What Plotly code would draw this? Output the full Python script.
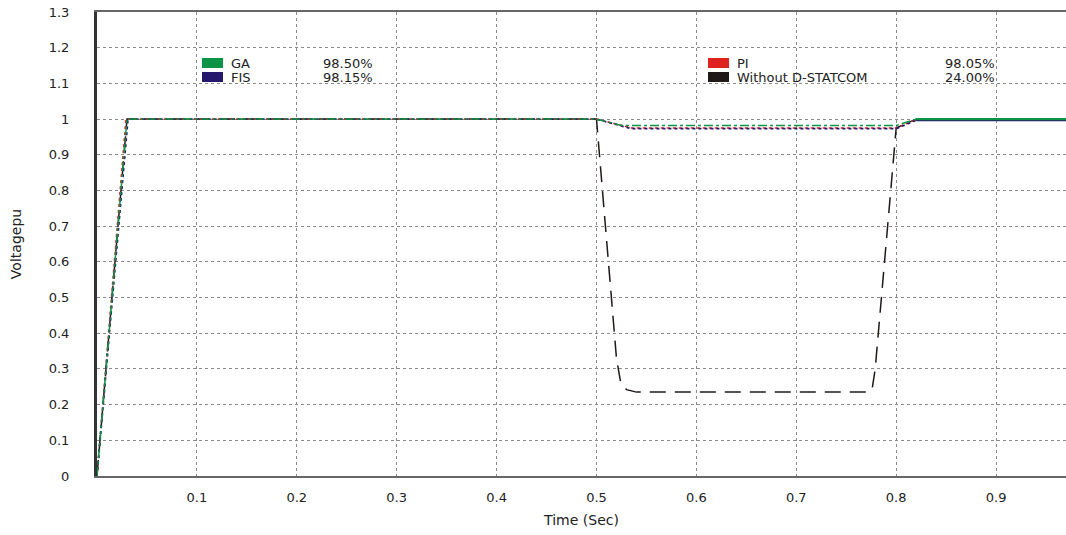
import plotly.graph_objects as go

# ---- data ----
t_ga = [0.0, 0.030, 0.50, 0.525, 0.80, 0.82, 0.97]
v_ga = [0.0, 1.000, 1.000, 0.982, 0.982, 1.000, 1.000]

t_fis = [0.0, 0.031, 0.50, 0.535, 0.80, 0.82, 0.97]
v_fis = [0.0, 1.000, 1.000, 0.973, 0.973, 0.997, 0.997]

t_pi = [0.0, 0.029, 0.50, 0.535, 0.80, 0.82, 0.97]
v_pi = [0.0, 1.000, 1.000, 0.975, 0.975, 0.999, 0.999]

t_wo = [0.0, 0.030, 0.50, 0.520, 0.524, 0.530, 0.540, 0.772, 0.776, 0.779, 0.800, 0.82, 0.97]
v_wo = [0.0, 1.000, 1.000, 0.330, 0.265, 0.242, 0.235, 0.235, 0.245, 0.300, 0.975, 1.00, 1.00]

legend_left = ["GA", "FIS"]
legend_left_pct = ["98.50%", "98.15%"]
legend_right = ["PI", "Without D-STATCOM"]
legend_right_pct = ["98.05%", "24.00%"]

x_ticks = [0.1, 0.2, 0.3, 0.4, 0.5, 0.6, 0.7, 0.8, 0.9, 1.0]
x_ticktext = ["0.1", "0.2", "0.3", "0.4", "0.5", "0.6", "0.7", "0.8", "0.9", "1"]
y_ticks = [0, 0.1, 0.2, 0.3, 0.4, 0.5, 0.6, 0.7, 0.8, 0.9, 1.0, 1.1, 1.2, 1.3]
y_ticktext = ["0", "0.1", "0.2", "0.3", "0.4", "0.5", "0.6", "0.7", "0.8", "0.9", "1", "1.1", "1.2", "1.3"]

C_GA = "#0b9446"
C_FIS = "#24176c"
C_PI = "#e0231f"
C_WO = "#1f1a17"

FONT = "DejaVu Sans"
W, H = 1066, 535
L, R, T, B = 97, 0, 12, 59


def split(t, v, tc=0.82):
    pre = [(a, b) for a, b in zip(t, v) if a <= tc]
    post = [(a, b) for a, b in zip(t, v) if a >= tc]
    return pre, post


fig = go.Figure()

# without D-STATCOM (bottom layer)
pre, post = split(t_wo, v_wo)
fig.add_trace(go.Scatter(x=[p[0] for p in pre], y=[p[1] for p in pre], mode="lines",
                         line=dict(color=C_WO, width=1.5, dash="16px,9px"),
                         name="Without D-STATCOM", showlegend=False))
fig.add_trace(go.Scatter(x=[p[0] for p in post], y=[p[1] for p in post], mode="lines",
                         line=dict(color=C_WO, width=1.5), showlegend=False))

series = [
    (t_pi, v_pi, C_PI, "dot", 1.6, "PI"),
    (t_fis, v_fis, C_FIS, "dot", 1.8, "FIS"),
    (t_ga, v_ga, C_GA, "dashdot", 1.5, "GA"),
]
for t, v, c, d, w, n in series:
    pre, post = split(t, v)
    fig.add_trace(go.Scatter(x=[p[0] for p in pre], y=[p[1] for p in pre], mode="lines",
                             line=dict(color=c, width=w, dash=d), name=n, showlegend=False))
    fig.add_trace(go.Scatter(x=[p[0] for p in post], y=[p[1] for p in post], mode="lines",
                             line=dict(color=c, width=2.2), showlegend=False))

pw = W - L - R
ph = H - T - B


def px(xp):
    return (xp - L) / pw


def py(yp):
    return (H - B - yp) / ph


shapes = []
annotations = []


def legend_block(x_box, x_text, x_pct, y_centers, labels, pcts, colors):
    for yc, lab, pct, col in zip(y_centers, labels, pcts, colors):
        shapes.append(dict(type="rect", xref="paper", yref="paper",
                           x0=px(x_box), x1=px(x_box + 21), y0=py(yc + 5), y1=py(yc - 5),
                           fillcolor=col, line=dict(width=0)))
        annotations.append(dict(xref="paper", yref="paper", x=px(x_text), y=py(yc),
                                xanchor="left", yanchor="middle", text=lab, showarrow=False,
                                font=dict(family=FONT, size=13, color="#222")))
        annotations.append(dict(xref="paper", yref="paper", x=px(x_pct), y=py(yc),
                                xanchor="center", yanchor="middle", text=pct, showarrow=False,
                                font=dict(family=FONT, size=13, color="#222")))


legend_block(202, 229, 348, [63, 77], legend_left, legend_left_pct, [C_GA, C_FIS])
legend_block(708, 735, 970, [63, 77], legend_right, legend_right_pct, [C_PI, C_WO])

fig.update_layout(
    width=W, height=H,
    margin=dict(l=L, r=R, t=T, b=B, autoexpand=False),
    paper_bgcolor="white", plot_bgcolor="white",
    font=dict(family=FONT, size=13, color="#222"),
    showlegend=False,
    shapes=shapes, annotations=annotations,
)
fig.update_xaxes(
    range=[0, 0.97], tickvals=x_ticks, ticktext=x_ticktext,
    showgrid=True, gridcolor="#8a8a8a", griddash="dot", gridwidth=1,
    showline=True, linecolor="#666", linewidth=2, mirror=True,
    ticks="", ticklabelstandoff=8, zeroline=False,
    tickfont=dict(family=FONT, size=13, color="#222"),
    title=dict(text="Time (Sec)", font=dict(family=FONT, size=14, color="#222"), standoff=12),
    automargin=False,
)
fig.update_yaxes(
    range=[0, 1.3], tickvals=y_ticks, ticktext=y_ticktext,
    showgrid=True, gridcolor="#8a8a8a", griddash="dot", gridwidth=1,
    showline=True, linecolor="#333", linewidth=3,
    ticks="", ticklabelstandoff=22, zeroline=False,
    tickfont=dict(family=FONT, size=13, color="#222"),
    title=dict(text="Voltagepu", font=dict(family=FONT, size=14, color="#222"), standoff=24),
    automargin=False,
)

fig.write_html(
    "out.html",
    config={"displayModeBar": False},
    post_script="document.body.style.margin='0px';document.body.style.overflow='hidden';",
)
